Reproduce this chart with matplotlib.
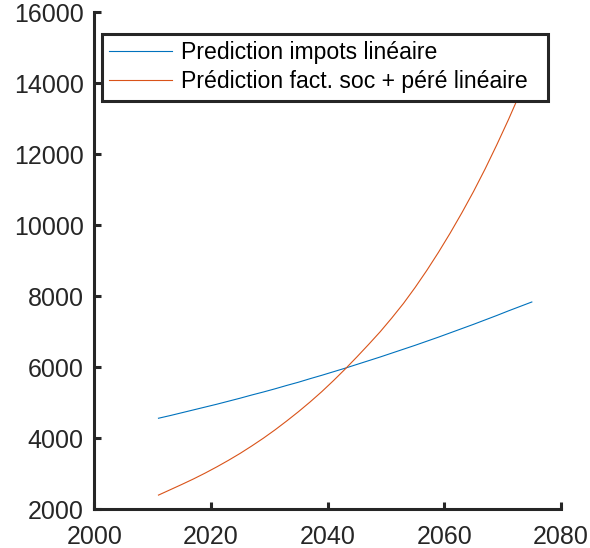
import matplotlib
matplotlib.use("Agg")
import matplotlib.pyplot as plt

plt.rcParams['font.family'] = ['Liberation Sans', 'DejaVu Sans']

years = [2011, 2013, 2015, 2017, 2019, 2021, 2023, 2025, 2027, 2029, 2031,
         2033, 2035, 2037, 2039, 2041, 2043, 2045, 2047, 2049, 2051, 2053,
         2055, 2057, 2059, 2061, 2063, 2065, 2067, 2069, 2071, 2073, 2075]
impots = [4565, 4640, 4720, 4800, 4880, 4960, 5045, 5130, 5220, 5305, 5395,
          5490, 5580, 5680, 5775, 5875, 5975, 6080, 6185, 6290, 6400, 6510,
          6620, 6735, 6850, 6970, 7090, 7210, 7335, 7460, 7590, 7715, 7840]
fact_soc = [2400, 2550, 2700, 2855, 3020, 3195, 3380, 3575, 3785, 4005, 4240,
            4490, 4750, 5025, 5315, 5625, 5950, 6290, 6640, 7000, 7390, 7800,
            8250, 8730, 9240, 9780, 10350, 10950, 11590, 12270, 12980, 13730, 14520]
labels = ["Prediction impots linéaire", "Prédiction fact. soc + péré linéaire"]
xticks = [2000, 2020, 2040, 2060, 2080]
yticks = [2000, 4000, 6000, 8000, 10000, 12000, 14000, 16000]

W, H = 590, 548
fig = plt.figure(figsize=(W / 100, H / 100), dpi=100)
ax = fig.add_axes([94.3 / W, 1 - 509.3 / H, (561 - 94.3) / W, (509.3 - 12.3) / H])

ax.plot(years, impots, color='#0072BD', lw=0.8, label=labels[0])
ax.plot(years, fact_soc, color='#D95319', lw=0.8, label=labels[1])

ax.set_xlim(2000, 2080)
ax.set_ylim(2000, 16000)
ax.set_xticks(xticks)
ax.set_yticks(yticks)

dark = '#262626'
for s in ['top', 'right']:
    ax.spines[s].set_visible(False)
for s in ['left', 'bottom']:
    ax.spines[s].set_linewidth(2.2)
    ax.spines[s].set_color(dark)
ax.tick_params(direction='in', length=5, width=2.2, color=dark,
               labelsize=18, labelcolor=dark)
ax.tick_params(axis='x', pad=11)
ax.tick_params(axis='y', pad=7.6)

x0, y0, x1, y1 = 101.5, 33.5, 547.5, 98.5
leg = ax.legend(loc='upper left',
                bbox_to_anchor=(x0 / W, 1 - y1 / H, (x1 - x0) / W, (y1 - y0) / H),
                bbox_transform=fig.transFigure, borderaxespad=0, mode='expand',
                fancybox=False, framealpha=1, edgecolor=dark,
                fontsize=16.6, handlelength=2.72, handletextpad=0.37,
                labelspacing=0.24, borderpad=0.34)
leg.get_frame().set_linewidth(2.2)

fig.savefig('out.png', dpi=100)
